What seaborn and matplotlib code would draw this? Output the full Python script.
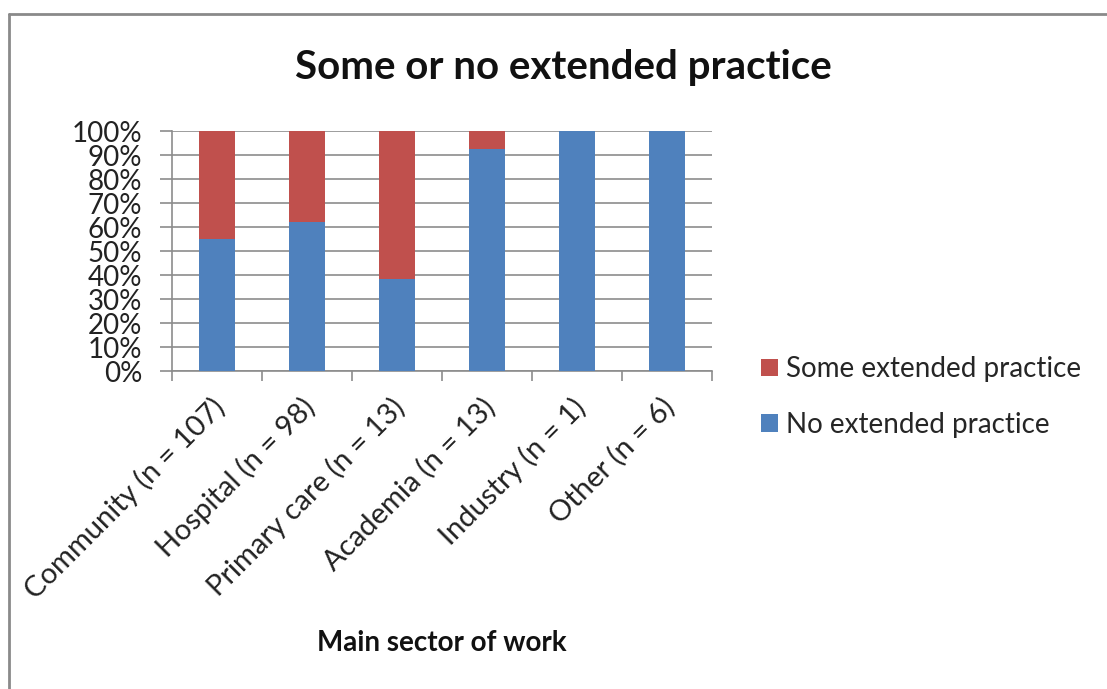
import matplotlib
matplotlib.use("Agg")
import matplotlib.pyplot as plt
import matplotlib.transforms as mtransforms
from matplotlib.lines import Line2D
from matplotlib.patches import Patch
import pandas as pd
import seaborn as sns

categories = ["Community (n = 107)", "Hospital (n = 98)", "Primary care (n = 13)",
              "Academia (n = 13)", "Industry (n = 1)", "Other (n = 6)"]
no_extended = [55.1, 62.2, 38.5, 92.3, 100.0, 100.0]
some_extended = [44.9, 37.8, 61.5, 7.7, 0.0, 0.0]
y_ticks = list(range(0, 101, 10))

BLUE = "#4F81BD"
RED = "#C0504D"

sns.set_theme(style="white")
plt.rcParams["font.family"] = ["Lato", "DejaVu Sans"]

df = pd.DataFrame({"sector": categories, "none": no_extended, "some": some_extended})
df["total"] = df["none"] + df["some"]

fig = plt.figure(figsize=(11.07, 6.89), dpi=100)
ax = fig.add_axes([172 / 1107, 1 - 371 / 689, 540 / 1107, 240 / 689])

# stacked bars: full height in red, lower part in blue on top
sns.barplot(data=df, x="sector", y="total", color=RED, width=0.41,
            saturation=1, ax=ax, linewidth=0, zorder=3)
sns.barplot(data=df, x="sector", y="none", color=BLUE, width=0.41,
            saturation=1, ax=ax, linewidth=0, zorder=4)

ax.set_ylim(0, 100)
ax.set_xlim(-0.5, len(categories) - 0.5)
ax.set_yticks(y_ticks)
ax.set_yticklabels([f"{t}%" for t in y_ticks], fontsize=20, color="#222222")
ax.yaxis.grid(True, color="#8c8c8c", linewidth=1.2, zorder=0)
ax.set_axisbelow(True)

# category ticks sit on the boundaries between bars
ax.set_xticks([i - 0.5 for i in range(len(categories) + 1)])
ax.set_xticklabels([])
ax.set_xticks(range(len(categories)), minor=True)
ax.set_xticklabels(categories, minor=True, rotation=45, ha="right",
                   rotation_mode="anchor", fontsize=21, color="#222222")
ax.tick_params(axis="x", which="major", length=7, width=1.2, color="#8c8c8c",
               direction="out", bottom=True)
ax.tick_params(axis="x", which="minor", length=0, pad=16)
ax.tick_params(axis="y", length=8.5, width=1.2, color="#8c8c8c", direction="out",
               left=True, pad=13)

shift = mtransforms.ScaledTranslation(-6 / 100, 0, fig.dpi_scale_trans)
for lbl in ax.get_xticklabels(minor=True):
    lbl.set_transform(lbl.get_transform() + shift)

for side in ["top", "right"]:
    ax.spines[side].set_visible(False)
for side in ["left", "bottom"]:
    ax.spines[side].set_color("#8c8c8c")
    ax.spines[side].set_linewidth(1.2)

ax.set_ylabel("")
ax.set_xlabel("Main sector of work", fontsize=20, fontweight="bold",
              color="#111111")
ax.xaxis.set_label_coords(0.5, -1.08)

fig.text(563 / 1107, 1 - 68 / 689, "Some or no extended practice", ha="center",
         va="center", fontsize=29, fontweight="bold", color="#111111")

handles = [Patch(facecolor=RED, edgecolor="none"),
           Patch(facecolor=BLUE, edgecolor="none")]
fig.legend(handles, ["Some extended practice", "No extended practice"],
           loc="center left", bbox_to_anchor=(736 / 1107, 1 - 397 / 689),
           frameon=False, fontsize=20, handlelength=0.6, handleheight=0.6,
           handletextpad=0.3, labelspacing=1.05)

# chart frame
fig.add_artist(Line2D([9 / 1107, 9 / 1107], [0, 1 - 14 / 689],
                      transform=fig.transFigure, color="#8a8a8a", linewidth=2))
fig.add_artist(Line2D([9 / 1107, 1], [1 - 14 / 689, 1 - 14 / 689],
                      transform=fig.transFigure, color="#8a8a8a", linewidth=2))

fig.savefig("out.png", dpi=100)
